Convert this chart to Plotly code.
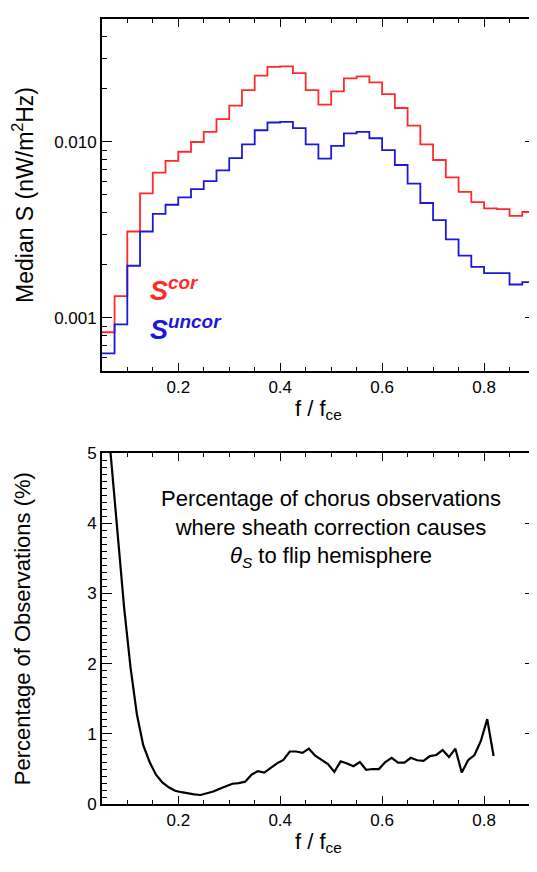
import plotly.graph_objects as go

# ---------------- data ----------------
# left edges of the 0.025-wide frequency bins (f / fce), last value is the right edge of the final bin
f_edges = [0.050, 0.075, 0.100, 0.125, 0.150, 0.175, 0.200, 0.225, 0.250, 0.275,
           0.300, 0.325, 0.350, 0.375, 0.400, 0.425, 0.450, 0.475, 0.500, 0.525,
           0.550, 0.575, 0.600, 0.625, 0.650, 0.675, 0.700, 0.725, 0.750, 0.775,
           0.800, 0.825, 0.850, 0.875, 0.900]

s_cor = [0.00083, 0.00133, 0.0031, 0.0051, 0.0067, 0.0078, 0.0088, 0.0100, 0.0114, 0.0135,
         0.0161, 0.0197, 0.0238, 0.0267, 0.0269, 0.0246, 0.0197, 0.0163, 0.0194, 0.0230,
         0.0236, 0.0218, 0.0187, 0.0156, 0.0124, 0.0097, 0.0079, 0.0063, 0.0052, 0.00455,
         0.0042, 0.00415, 0.0038, 0.0040]

s_uncor = [0.00063, 0.00092, 0.00198, 0.0031, 0.0039, 0.0044, 0.00484, 0.0054, 0.0060, 0.0069,
           0.0081, 0.0097, 0.01166, 0.0129, 0.0130, 0.0120, 0.0097, 0.00805, 0.0095, 0.0112,
           0.0114, 0.0105, 0.0090, 0.0074, 0.0058, 0.0045, 0.0036, 0.0028, 0.00226, 0.00195,
           0.0018, 0.0018, 0.00155, 0.0016]

f_pct = [0.05625, 0.06875, 0.08125, 0.09375, 0.10625, 0.11875, 0.13125, 0.14375, 0.15625, 0.16875,
         0.18125, 0.19375, 0.20625, 0.21875, 0.23125, 0.24375, 0.25625, 0.26875, 0.28125, 0.29375,
         0.30625, 0.31875, 0.33125, 0.34375, 0.35625, 0.36875, 0.38125, 0.39375, 0.40625, 0.41875,
         0.43125, 0.44375, 0.45625, 0.46875, 0.48125, 0.49375, 0.50625, 0.51875, 0.53125, 0.54375,
         0.55625, 0.56875, 0.58125, 0.59375, 0.60625, 0.61875, 0.63125, 0.64375, 0.65625, 0.66875,
         0.68125, 0.69375, 0.70625, 0.71875, 0.73125, 0.74375, 0.75625, 0.76875, 0.78125, 0.79375,
         0.80625, 0.81875]

pct_flip = [5.90, 4.85, 3.80, 2.80, 1.95, 1.28, 0.84, 0.60, 0.42, 0.31,
            0.24, 0.19, 0.17, 0.15, 0.14, 0.13, 0.15, 0.18, 0.22, 0.26,
            0.29, 0.30, 0.32, 0.42, 0.47, 0.45, 0.52, 0.58, 0.63, 0.75,
            0.75, 0.73, 0.79, 0.69, 0.63, 0.57, 0.46, 0.61, 0.58, 0.54,
            0.60, 0.49, 0.50, 0.50, 0.60, 0.66, 0.59, 0.59, 0.66, 0.625,
            0.615, 0.685, 0.70, 0.77, 0.67, 0.79, 0.45, 0.625, 0.70, 0.90,
            1.21, 0.685]

x_ticks = [0.2, 0.4, 0.6, 0.8]
x_ticktext = ["0.2", "0.4", "0.6", "0.8"]
y1_ticks = [0.001, 0.01]
y1_ticktext = ["0.001", "0.010"]
y1_minor = [0.0005, 0.0006, 0.0007, 0.0008, 0.0009,
            0.002, 0.003, 0.004, 0.005, 0.006, 0.007, 0.008, 0.009,
            0.02, 0.03, 0.04, 0.05]

# ---------------- figure ----------------
# the page body keeps its default 8px margin, so the figure is sized to fit the window
OFF = 8
W, H = 537 - OFF, 872 - 2 * OFF
FONT = "Liberation Sans, Arial, Helvetica, sans-serif"

fig = go.Figure()
fig.add_trace(go.Scatter(x=f_edges, y=s_cor + [s_cor[-1]], mode="lines", line_shape="hv",
                         line=dict(color="#ff2a2a", width=1.8), xaxis="x", yaxis="y",
                         showlegend=False, name="S cor"))
fig.add_trace(go.Scatter(x=f_edges, y=s_uncor + [s_uncor[-1]], mode="lines", line_shape="hv",
                         line=dict(color="#1a1ad6", width=1.8), xaxis="x", yaxis="y",
                         showlegend=False, name="S uncor"))
fig.add_trace(go.Scatter(x=f_pct, y=pct_flip, mode="lines",
                         line=dict(color="black", width=2.2), xaxis="x2", yaxis="y2",
                         showlegend=False, name="% flip"))

def px_x(p):
    return (p - OFF) / W

def px_y(p):
    return 1 - (p - OFF) / H

axis_common = dict(showline=True, linecolor="black", linewidth=1.5, mirror="allticks",
                   showgrid=False, zeroline=False, ticks="inside", tickwidth=1.3,
                   tickcolor="black", tickfont=dict(size=17, color="black", family=FONT))

xcommon = dict(axis_common, range=[0.05, 0.9], tickmode="array", tickvals=x_ticks,
               ticktext=x_ticktext, ticklen=8, ticklabelstandoff=0,
               minor=dict(ticks="inside", ticklen=4, dtick=0.05, tick0=0.0,
                          tickwidth=1.2, tickcolor="black"),
               title=dict(text="f / f<sub>ce</sub>", font=dict(size=22, color="black", family=FONT),
                          standoff=4))

fig.update_layout(
    width=W, height=H,
    margin=dict(l=0, r=0, t=0, b=0),
    paper_bgcolor="white", plot_bgcolor="white",
    font=dict(family=FONT, color="black"),
    xaxis=dict(xcommon, domain=[px_x(102), px_x(536)], anchor="y"),
    yaxis=dict(axis_common, type="log", domain=[px_y(370), px_y(10)], anchor="x",
               range=[-3.30103, -1.30103], tickmode="array", tickvals=y1_ticks,
               ticktext=y1_ticktext, ticklen=10, ticklabelstandoff=0,
               minor=dict(ticks="inside", ticklen=5, tickvals=y1_minor,
                          tickwidth=1.2, tickcolor="black"),
               title=dict(text="Median S (nW/m<sup>2</sup>Hz)",
                          font=dict(size=23, color="black", family=FONT), standoff=14)),
    xaxis2=dict(xcommon, domain=[px_x(102), px_x(536)], anchor="y2"),
    yaxis2=dict(axis_common, domain=[px_y(813), px_y(454)], anchor="x2",
                range=[0, 5], dtick=1, tick0=0, ticklen=10, ticklabelstandoff=0,
                minor=dict(ticks="inside", ticklen=5, dtick=0.1, tick0=0,
                           tickwidth=1.2, tickcolor="black"),
                title=dict(text="Percentage of Observations (%)",
                           font=dict(size=22, color="black", family=FONT), standoff=50)),
)

fig.add_annotation(x=px_x(148), y=px_y(306), xref="paper", yref="paper",
                   xanchor="left", yanchor="bottom", showarrow=False,
                   text="<b><i>S<sup>cor</sup></i></b>",
                   font=dict(size=27, color="#ff2a2a", family=FONT))
fig.add_annotation(x=px_x(148), y=px_y(346), xref="paper", yref="paper",
                   xanchor="left", yanchor="bottom", showarrow=False,
                   text="<b><i>S<sup>uncor</sup></i></b>",
                   font=dict(size=27, color="#1a1ad6", family=FONT))

fig.add_annotation(x=px_x(332), y=px_y(531), xref="paper", yref="paper",
                   xanchor="center", yanchor="middle", showarrow=False, align="center",
                   text="Percentage of chorus observations<br>where sheath correction causes<br>"
                        "<i>θ<sub>S</sub></i> to flip hemisphere",
                   font=dict(size=22, color="black", family=FONT))

fig.write_html("out.html")
